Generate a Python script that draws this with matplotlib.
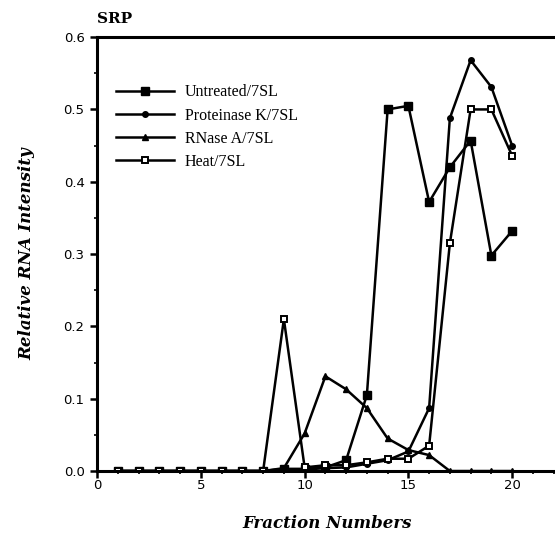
import matplotlib
matplotlib.use("Agg")
import matplotlib.pyplot as plt
from matplotlib.ticker import MultipleLocator

fractions = list(range(1, 21))
untreated = [0, 0, 0, 0, 0, 0, 0, 0, 0.003, 0.003, 0.005, 0.015, 0.105, 0.50, 0.505, 0.372, 0.42, 0.457, 0.298, 0.332]
proteinase_k = [0, 0, 0, 0, 0, 0, 0, 0, 0.0, 0.002, 0.004, 0.005, 0.01, 0.015, 0.027, 0.087, 0.488, 0.568, 0.531, 0.45]
rnase_a = [0, 0, 0, 0, 0, 0, 0, 0, 0.004, 0.052, 0.131, 0.113, 0.087, 0.045, 0.029, 0.022, 0.0, 0.0, 0.0, 0.0]
heat = [0, 0, 0, 0, 0, 0, 0, 0, 0.21, 0.005, 0.008, 0.008, 0.012, 0.017, 0.017, 0.035, 0.315, 0.50, 0.50, 0.436]

labels = ["Untreated/7SL", "Proteinase K/7SL", "RNase A/7SL", "Heat/7SL"]
x_ticks = [0, 5, 10, 15, 20]
y_ticks = [0.0, 0.1, 0.2, 0.3, 0.4, 0.5, 0.6]

fig = plt.figure(figsize=(5.55, 5.38), dpi=100)
ax = fig.add_axes([0.175, 0.1245, 0.83, 0.8065])

lw = 1.8
ax.plot(fractions, untreated, color="black", lw=lw, marker="s", ms=5.5, mfc="black", label=labels[0])
ax.plot(fractions, proteinase_k, color="black", lw=lw, marker="o", ms=4, mfc="black", label=labels[1])
ax.plot(fractions, rnase_a, color="black", lw=lw, marker="^", ms=5, mfc="black", label=labels[2])
ax.plot(fractions, heat, color="black", lw=lw, marker="s", ms=5, mfc="white", mew=1.4, label=labels[3])

ax.set_xlim(0, 22.2)
ax.set_ylim(0, 0.6)
ax.set_xticks(x_ticks)
ax.set_xticklabels([str(v) for v in x_ticks])
ax.set_yticks(y_ticks)
ax.set_yticklabels([f"{v:.1f}" for v in y_ticks])
ax.xaxis.set_minor_locator(MultipleLocator(1))
ax.yaxis.set_minor_locator(MultipleLocator(0.05))

ax.spines["right"].set_visible(False)
for side in ["left", "bottom", "top"]:
    ax.spines[side].set_linewidth(2.2)

ax.tick_params(axis="both", which="major", direction="out", length=5, width=1.8, labelsize=9.5)
ax.tick_params(axis="both", which="minor", direction="out", length=2.5, width=1.2)
ax.tick_params(axis="x", pad=1)
ax.tick_params(axis="y", pad=4)
for t in ax.get_xticklabels() + ax.get_yticklabels():
    t.set_family("DejaVu Sans")

ax.set_xlabel("Fraction Numbers", family="DejaVu Serif", fontweight="bold", style="italic", fontsize=12, labelpad=16)
ax.set_ylabel("Relative RNA Intensity", family="DejaVu Serif", fontweight="bold", style="italic", fontsize=12, labelpad=20)
ax.set_title("SRP", family="DejaVu Serif", fontweight="bold", fontsize=11, loc="left", pad=10)

leg = ax.legend(loc="upper left", bbox_to_anchor=(0.0, 0.935), frameon=False,
                prop={"family": "Liberation Serif", "size": 11.5},
                handlelength=3.6, handletextpad=0.7, labelspacing=0.45, borderaxespad=0.8)

fig.savefig("out.png", dpi=100)
